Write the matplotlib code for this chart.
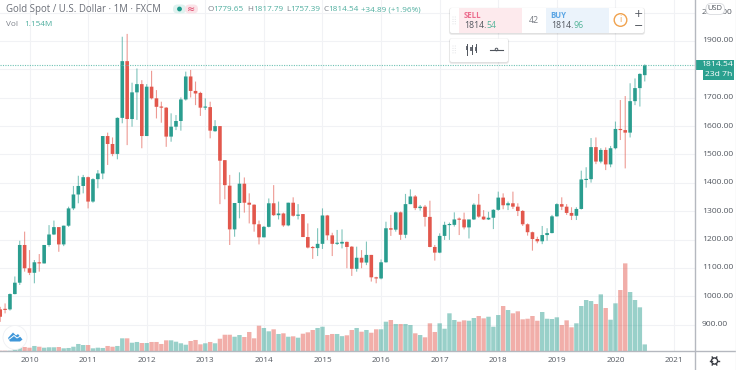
import matplotlib
matplotlib.use("Agg")
import matplotlib.pyplot as plt
from matplotlib.patches import FancyBboxPatch, Rectangle, Circle, Polygon
import numpy as np

months = [f"{y}-{m:02d}" for y in range(2009, 2021) for m in range(1, 13)]
months = months[6:months.index("2020-07") + 1]

opens = [954,954,954,1008,1048,1181,
 1099,1083,1120,1116,1181,1218,1244,1183,1249,1310,1359,1389,
 1420,1334,1413,1433,1565,1537,1502,1629,1829,1625,1719,1748,
 1565,1739,1698,1668,1665,1563,1598,1618,1694,1775,1724,1717,
 1665,1667,1582,1600,1480,1390,1236,1329,1397,1330,1323,1254,
 1208,1245,1328,1286,1292,1250,1330,1284,1290,1209,1172,1170,
 1185,1285,1215,1185,1186,1192,1175,1097,1136,1119,1146,1067,
 1063,1120,1240,1235,1296,1217,1325,1352,1311,1316,1280,1174,
 1154,1213,1251,1252,1272,1271,1243,1271,1323,1281,1271,1277,
 1305,1348,1321,1328,1316,1301,1254,1226,1202,1194,1216,1223,
 1282,1325,1316,1294,1284,1308,1410,1413,1526,1475,1516,1465,
 1522,1590,1586,1577,1688,1734,1779.65]
closes = [928,952,1008,1048,1181,1099,
 1083,1120,1116,1181,1218,1244,1183,1249,1310,1359,1389,1420,
 1334,1413,1433,1565,1537,1502,1629,1829,1625,1719,1748,1565,
 1739,1698,1668,1665,1563,1598,1618,1694,1775,1724,1715,1665,
 1666,1584,1600,1478,1392,1236,1329,1397,1330,1323,1254,1208,
 1245,1328,1286,1292,1250,1330,1284,1288,1209,1172,1170,1185,
 1285,1215,1185,1186,1192,1174,1097,1136,1119,1146,1067,1063,
 1120,1240,1235,1296,1217,1325,1352,1311,1316,1280,1174,1154,
 1213,1252,1252,1271,1270,1243,1271,1323,1281,1271,1277,1305,
 1348,1321,1328,1316,1301,1254,1226,1202,1194,1216,1223,1282,
 1325,1316,1294,1284,1308,1412,1413,1526,1475,1516,1465,1522,
 1590,1586,1577,1688,1734,1784,1814.54]
highs = [963,975,1010,1070,1196,1228,
 1163,1128,1149,1181,1251,1267,1244,1249,1316,1389,1425,1428,
 1422,1416,1445,1565,1577,1560,1631,1915,1925,1753,1803,1762,
 1748,1795,1727,1686,1667,1645,1639,1701,1792,1798,1757,1721,
 1698,1686,1621,1600,1480,1428,1329,1437,1419,1363,1324,1267,
 1248,1345,1392,1334,1295,1330,1349,1325,1290,1257,1177,1240,
 1310,1287,1224,1234,1236,1193,1177,1175,1163,1193,1146,1069,
 1130,1263,1287,1299,1299,1361,1377,1357,1322,1322,1337,1181,
 1222,1263,1260,1296,1278,1295,1269,1328,1361,1304,1298,1307,
 1369,1363,1334,1369,1328,1304,1257,1228,1210,1248,1240,1287,
 1328,1349,1325,1314,1314,1443,1455,1558,1560,1522,1525,1530,
 1616,1692,1706,1751,1768,1786,1817.79]
lows = [910,940,950,1007,1040,1087,
 1075,1046,1087,1116,1175,1216,1157,1177,1245,1304,1328,1363,
 1310,1330,1381,1413,1463,1494,1483,1610,1533,1598,1622,1522,
 1565,1694,1627,1612,1527,1545,1586,1584,1690,1701,1674,1636,
 1657,1557,1580,1325,1342,1181,1210,1275,1295,1257,1228,1183,
 1208,1243,1283,1271,1245,1247,1281,1271,1209,1169,1132,1142,
 1167,1198,1142,1181,1169,1099,1072,1087,1099,1110,1052,1046,
 1060,1119,1213,1228,1199,1205,1325,1304,1302,1246,1173,1126,
 1152,1199,1199,1246,1216,1236,1204,1269,1277,1269,1269,1237,
 1302,1307,1304,1308,1283,1248,1214,1161,1187,1184,1196,1222,
 1281,1304,1287,1269,1269,1306,1383,1401,1466,1469,1445,1455,
 1518,1551,1451,1560,1674,1669,1757.39]
volumes_m = [0.05,0.05,0.05,0.47,0.58,0.70,
 .58,.88,.75,.58,.65,.65,.70,.47,.53,.75,1.23,1.05,
 1.05,.47,.58,.53,.88,.75,.88,2.22,2.22,1.45,1.58,1.40,
 1.40,1.58,1.58,1.23,1.87,1.87,1.63,1.35,1.10,1.75,1.93,1.17,
 1.35,1.58,1.35,2.15,2.85,2.85,2.50,2.80,2.45,3.33,2.22,4.43,
 4.03,3.45,3.80,2.98,3.10,2.50,2.57,2.33,3.03,3.27,3.68,4.03,
 4.25,2.80,2.98,2.98,2.60,2.75,3.68,4.03,3.38,3.68,3.20,3.80,
 3.80,5.13,5.43,4.73,4.73,4.73,4.55,3.10,2.80,2.40,4.85,3.33,
 4.85,3.90,6.60,5.43,5.13,5.37,5.30,5.78,6.13,5.72,6.00,4.25,
 6.30,7.88,7.18,6.60,6.95,5.55,5.65,6.13,5.30,6.83,5.65,5.60,
 5.90,4.55,5.37,4.15,4.85,7.88,8.93,8.75,8.23,9.92,7.53,5.48,
 8.35,10.68,15.35,10.33,8.93,7.65,1.154]
price_ticks = [900,1000,1100,1200,1300,1400,1500,1600,1700,1800,1900,2000]
hidden_price_labels = [1800]   # covered by the price tag in the reference
year_labels = [2010,2011,2012,2013,2014,2015,2016,2017,2018,2019,2020,2021]
last_price = 1814.54
legend_parts = [("O",208,"g"),("1779.65",213.5,"t"),("H",247.5,"g"),("1817.79",253,"t"),
                ("L",286,"g"),("1757.39",290.5,"t"),("C",323,"g"),("1814.54",328.5,"t"),
                ("+34.89 (+1.96%)",361,"t")]

UP = "#2a9d8f"; DOWN = "#e2574c"
TEAL_TXT = "#4fae9f"; GREY = "#6b6f78"; AX = "#b5b8bf"; GRID = "#f1f2f5"
FONT = "Open Sans"
plt.rcParams["font.family"] = [FONT, "DejaVu Sans"]

W, H = 736, 370
fig = plt.figure(figsize=(W/100, H/100), dpi=100, facecolor="white")
R, B = 695, 351
rect = [0, 1-B/H, R/W, B/H]

PX_M = 4.883; X0 = 29.5
x = np.arange(len(months)) - 6
xlim = ((0-X0)/PX_M, (R-X0)/PX_M)
PX_U = 0.2837
ylim = (1900-(B-41)/PX_U, 1900+41/PX_U)

ax = fig.add_axes(rect, zorder=1); ax.set_facecolor("white")
axv = fig.add_axes(rect, zorder=2); axv.patch.set_alpha(0)
for a in (ax, axv):
    a.set_xlim(*xlim)
    for s in a.spines.values(): s.set_visible(False)
    a.tick_params(length=0, labelleft=False, labelbottom=False, labelright=False)
ax.set_ylim(*ylim)
axv.set_ylim(0, B/5.71)

o, h, l, c, v = map(np.array, (opens, highs, lows, closes, volumes_m))
up = c >= o
cols = np.where(up, UP, DOWN)

year_pos = [(y-2010)*12 for y in year_labels]
ax.set_xticks(year_pos); ax.set_yticks(price_ticks)
ax.grid(axis="both", color=GRID, lw=0.8)
ax.set_axisbelow(True)
axv.set_xticks([]); axv.set_yticks([])

for p in axv.bar(x, v, width=0.9, color=cols, alpha=0.48, lw=0, zorder=3):
    p.set_snap(False)
wk = ax.vlines(x, l, h, colors=cols, lw=0.8, alpha=0.6, zorder=3)
wk.set_snap(False)
bot = np.minimum(o, c); ht = np.maximum(np.abs(c-o), 4)
for p in ax.bar(x, ht, bottom=bot, width=0.74, color=cols, lw=0, zorder=4):
    p.set_snap(False)
ax.axhline(last_price, color="#6fc2b4", lw=0.8, ls=(0, (1, 1.2)), zorder=5)

ov = fig.add_axes([0, 0, 1, 1], zorder=5); ov.patch.set_alpha(0)
ov.set_xlim(0, W); ov.set_ylim(H, 0); ov.axis("off")

def T(px, py, s, size=5.6, color=GREY, ha="left", **kw):
    kw.setdefault("zorder", 6)
    return ov.text(px, py, s, fontsize=size, color=color, ha=ha, va="center", **kw)

def panel(x0, y0, x1, y1):
    for d, al in ((2.2, .05), (1.2, .07)):
        ov.add_patch(FancyBboxPatch((x0-d/2, y0-d/2+.8), x1-x0+d, y1-y0+d,
                     boxstyle="round,pad=0,rounding_size=2.5", fc="black", ec="none", alpha=al))
    ov.add_patch(FancyBboxPatch((x0, y0), x1-x0, y1-y0, boxstyle="round,pad=0,rounding_size=2",
                 fc="white", ec="none"))

# axis lines and labels
ov.plot([R, R], [0, H], color=AX, lw=1)
ov.plot([0, W], [B, B], color=AX, lw=1)
ov.plot([735.5, 735.5], [0, H], color="#e6e7ea", lw=1)
for p in price_ticks:
    if p not in hidden_price_labels:
        T(701.7, B-(p-ylim[0])*PX_U, f"{p:.2f}", size=6.1, color="#555a62", zorder=3)
for y, pos in zip(year_labels, year_pos):
    T(X0+pos*PX_M, 361, str(y), size=5.9, color="#555a62", ha="center")

# price tags
ov.add_patch(Rectangle((696, 60), 38, 9.5, fc="#2aa08f", ec="none"))
ov.add_patch(Rectangle((703, 69.5), 31, 10.5, fc="#2aa08f", ec="none"))
T(701.5, 64.7, "1814.54", size=6.1, color="white")
T(705, 75, "23d 7h", size=6.1, color="white")

# USD button (covers the middle of the 2000.00 label, as in the reference)
ov.add_patch(FancyBboxPatch((706, 3.5), 18.5, 11, boxstyle="round,pad=0,rounding_size=5",
             fc="white", ec="#d8dade", lw=0.6, zorder=4))
T(715, 9, "USD", size=5.4, color="#50555d", ha="center")

# gear icon
ov.add_patch(Circle((714.5, 361), 3.1, fc="none", ec="#3a3d44", lw=1))
for ang in np.arange(0, 360, 60):
    ca, sa = np.cos(np.radians(ang)), np.sin(np.radians(ang))
    ov.plot([714.5+3*ca, 714.5+4.6*ca], [361+3*sa, 361+4.6*sa], color="#3a3d44", lw=1)

# legend
T(6, 9.5, "Gold Spot / U.S. Dollar · 1M · FXCM", size=6.95, color="#6b6f78")
ov.add_patch(FancyBboxPatch((173, 4.5), 13, 9, boxstyle="round,pad=0,rounding_size=4.5", fc="#dff2ef", ec="none"))
ov.add_patch(FancyBboxPatch((185, 4.5), 13, 9, boxstyle="round,pad=0,rounding_size=4.5", fc="#fbe3e8", ec="none"))
ov.add_patch(Circle((179.5, 9), 2.4, fc="#1c9a8b", ec="none"))
T(191, 8.6, "≈", size=7, color="#dd3f63", ha="center", family="DejaVu Sans")
for s, px, k in legend_parts:
    T(px, 9.6, s, size=5.9, color="#7d828b" if k == "g" else TEAL_TXT)
T(6, 24, "Vol", size=5.9, color="#7d828b")
T(24, 24, "1.154M", size=5.9, color=TEAL_TXT)

# trading panel
panel(450, 8, 644, 33)
ov.add_patch(Rectangle((459, 8), 63, 25, fc="#fdeaed", ec="none"))
ov.add_patch(Rectangle((546, 8), 63, 25, fc="#ebf3fb", ec="none"))
for gx in (453, 455.2):
    for gy in (17, 19.3, 21.6, 23.9):
        ov.add_patch(Circle((gx, gy), 0.4, fc="#c8cad0", ec="none"))
T(463.5, 15.5, "SELL", size=5.6, color="#ec6d8e", fontweight="bold")
T(464, 25.5, "1814.", size=6.3, color="#50555d")
T(486, 25.5, "54", size=6.3, color="#55b59a")
T(534, 20.3, "42", size=6.4, color="#7a7e86", ha="center")
T(550.5, 15.5, "BUY", size=5.6, color="#5aa5e4", fontweight="bold")
T(551, 25.5, "1814.", size=6.3, color="#50555d")
T(573, 25.5, "96", size=6.3, color="#55b59a")
ov.add_patch(Circle((620.5, 20), 6.3, fc="white", ec="#f0a24e", lw=1))
T(620.5, 20, "i", size=6.5, color="#f0a24e", ha="center")
T(638.5, 14, "+", size=8, color="#50555d", ha="center", family="DejaVu Sans")
T(638.5, 25.5, "−", size=8, color="#50555d", ha="center", family="DejaVu Sans")

# tool panel
panel(450, 38.5, 508, 62)
for gx in (453, 455.2):
    for gy in (46, 48.3, 50.6, 52.9):
        ov.add_patch(Circle((gx, gy), 0.4, fc="#c8cad0", ec="none"))
for gx, gy0, gy1 in ((467, 43.5, 54.5), (471.5, 44.5, 54), (476, 44, 52)):
    ov.plot([gx, gx], [gy0, gy1], color="#50555d", lw=0.7)
    ov.add_patch(Rectangle((gx-1.2, gy0+2.5), 2.4, 4.2, fc="#6c7078", ec="none"))
ov.plot([489.5, 503], [49.5, 49.5], color="#50555d", lw=0.8)
ov.add_patch(Circle((496.5, 49.5), 1.3, fc="white", ec="#50555d", lw=0.7))

# floating logo
ov.add_patch(Circle((15, 337.5), 12, fc="white", ec="#eff0f3", lw=0.6))
ov.add_patch(Polygon([(8, 338), (13, 332.5), (16, 335.5), (18, 334), (22.5, 339.5),
                      (20, 341.5), (10, 341.5)], closed=True, fc="#3f97d9", ec="none"))
ov.plot([9.5, 14, 17, 20.5], [339, 335.5, 338, 336], color="white", lw=0.7)

fig.savefig("out.png", dpi=100)
